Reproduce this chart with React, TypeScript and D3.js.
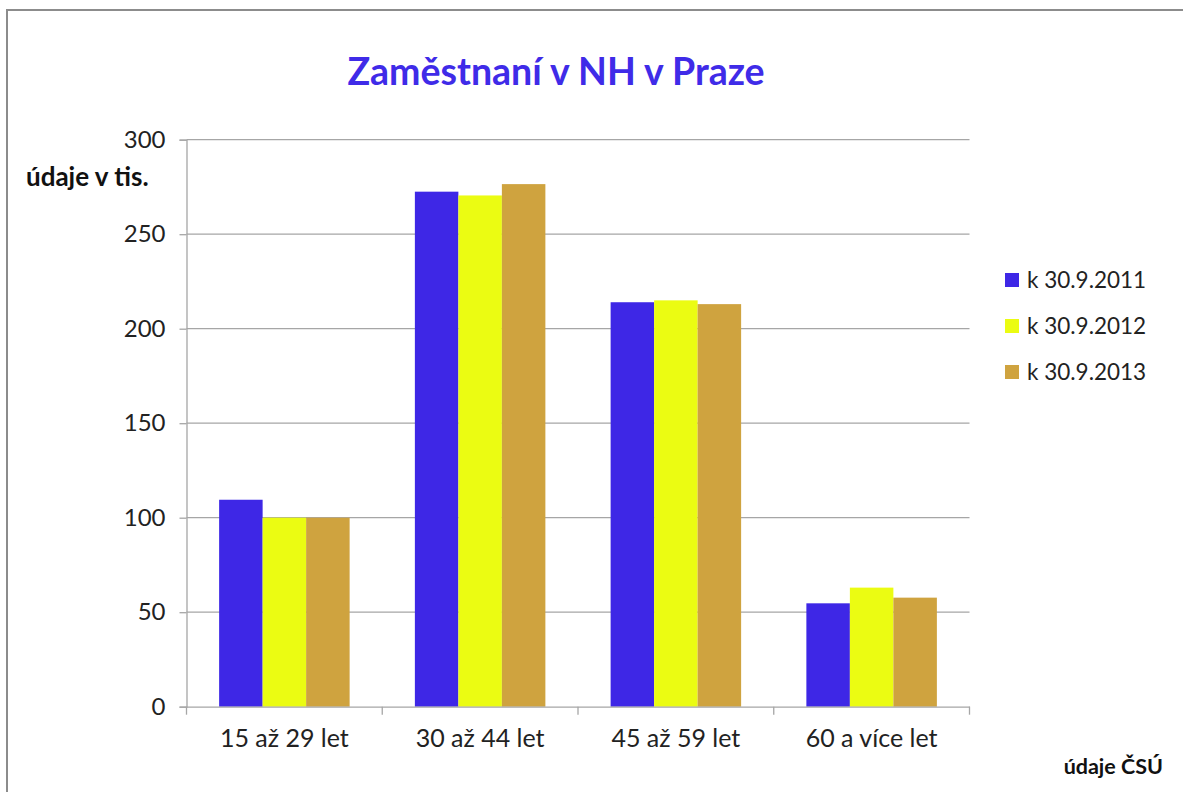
import React, { useRef, useEffect } from 'react';
import * as d3 from 'd3';

const categories = ['15 až 29 let', '30 až 44 let', '45 až 59 let', '60 a více let'];
const seriesNames = ['k 30.9.2011', 'k 30.9.2012', 'k 30.9.2013'];
const values2011 = [109.5, 272.5, 214, 54.7];
const values2012 = [100, 270.5, 215, 63];
const values2013 = [100, 276.5, 213, 57.7];
const colors = ['#3e27e6', '#ebfc12', '#cfa33f'];
const yTicks = [0, 50, 100, 150, 200, 250, 300];

const FONT = 'Lato, "Open Sans", sans-serif';

const App = () => {
    const svgRef = useRef<SVGSVGElement>(null);

    useEffect(() => {
        const svg = d3.select(svgRef.current);
        svg.selectAll('*').remove();

        const W = 1183, H = 792;
        const left = 186.5, right = 969.5, top = 139.7, bottom = 706.7;

        svg.attr('width', W).attr('height', H);

        // white background + frame (only top and left edges are in view)
        svg.append('rect').attr('x', 0).attr('y', 0).attr('width', W).attr('height', H).attr('fill', '#fff');
        svg.append('path')
            .attr('d', `M7,${H}V10H${W}`)
            .attr('fill', 'none').attr('stroke', '#8c8c8c').attr('stroke-width', 2);

        const x0 = d3.scaleBand().domain(categories).range([left, right]).paddingInner(0).paddingOuter(0);
        const x1 = d3.scaleBand().domain(seriesNames).range([0, x0.bandwidth() * 2 / 3]);
        const y = d3.scaleLinear().domain([0, 300]).range([bottom, top]);

        // gridlines
        svg.append('g').selectAll('line').data(yTicks.filter(d => d > 0)).enter().append('line')
            .attr('x1', left).attr('x2', right)
            .attr('y1', d => y(d)).attr('y2', d => y(d))
            .attr('stroke', '#a6a6a6').attr('stroke-width', 1.3);

        // bars
        const series = [values2011, values2012, values2013];
        const g = svg.append('g');
        categories.forEach((cat, ci) => {
            const offset = x0(cat)! + (x0.bandwidth() - x1.range()[1]) / 2;
            series.forEach((vals, si) => {
                g.append('rect')
                    .attr('x', offset + x1(seriesNames[si])!)
                    .attr('y', y(vals[ci]))
                    .attr('width', x1.bandwidth())
                    .attr('height', y(0) - y(vals[ci]))
                    .attr('fill', colors[si]);
            });
        });

        // y axis
        const yAxis = svg.append('g')
            .attr('transform', `translate(${left},0)`)
            .call(d3.axisLeft(y).tickValues(yTicks).tickSize(7).tickPadding(14));
        yAxis.select('.domain').attr('stroke', '#a6a6a6').attr('stroke-width', 1.3);
        yAxis.selectAll('.tick line').attr('stroke', '#a6a6a6').attr('stroke-width', 1.3);
        yAxis.selectAll('.tick text')
            .attr('font-family', FONT).attr('font-size', 24).attr('fill', '#222');

        // x axis
        const xAxis = svg.append('g')
            .attr('transform', `translate(0,${bottom})`)
            .call(d3.axisBottom(x0).tickSize(0).tickPadding(23));
        xAxis.select('.domain').attr('stroke', '#a6a6a6').attr('stroke-width', 1.3);
        xAxis.selectAll('.tick text')
            .attr('font-family', FONT).attr('font-size', 25).attr('fill', '#222');
        // category separator ticks
        const bounds = categories.map(c => x0(c)!).concat([right]);
        svg.append('g').selectAll('line').data(bounds).enter().append('line')
            .attr('x1', d => d).attr('x2', d => d)
            .attr('y1', bottom).attr('y2', bottom + 8)
            .attr('stroke', '#a6a6a6').attr('stroke-width', 1.3);

        // title
        svg.append('text')
            .attr('x', 556).attr('y', 85)
            .attr('text-anchor', 'middle')
            .attr('font-family', FONT).attr('font-weight', 'bold').attr('font-size', 37.5)
            .attr('fill', '#3f2be8')
            .text('Zaměstnaní v NH v Praze');

        // axis unit label
        svg.append('text')
            .attr('x', 26).attr('y', 186)
            .attr('font-family', FONT).attr('font-weight', 'bold').attr('font-size', 26)
            .attr('fill', '#111')
            .text('údaje v tis.');

        // source
        svg.append('text')
            .attr('x', 1163).attr('y', 774)
            .attr('text-anchor', 'end')
            .attr('font-family', FONT).attr('font-weight', 'bold').attr('font-size', 21.5)
            .attr('fill', '#111')
            .text('údaje ČSÚ');

        // legend
        const legend = svg.append('g').attr('transform', 'translate(1005,280)');
        seriesNames.forEach((name, i) => {
            const row = legend.append('g').attr('transform', `translate(0,${i * 46})`);
            row.append('rect').attr('x', 0).attr('y', -7).attr('width', 14).attr('height', 14).attr('fill', colors[i]);
            row.append('text')
                .attr('x', 22).attr('y', 0).attr('dy', '0.35em')
                .attr('font-family', FONT).attr('font-size', 22.5).attr('fill', '#222')
                .text(name);
        });
    }, []);

    return (
        <div style={{ position: 'absolute', left: 0, top: 0, width: 1183, height: 792, overflow: 'hidden' }}>
            <svg ref={svgRef} style={{ display: 'block' }}></svg>
        </div>
    );
};

export default App;
